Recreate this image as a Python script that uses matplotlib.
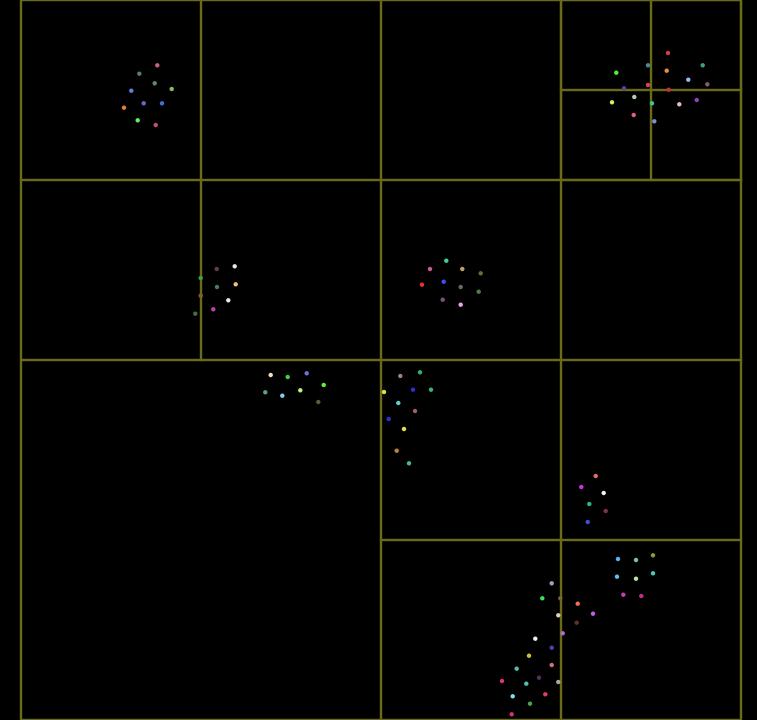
import numpy as np
import matplotlib.pyplot as plt
from matplotlib.patches import Rectangle

# 四分樹節點 (左上角 x, y, 邊長)，座標以像素為單位，y 向下
node_x = [0, 0, 180, 0, 180, 360, 540, 540, 630, 540, 630, 360, 540, 0, 360, 540, 360, 540]
node_y = [0, 0, 0, 180, 180, 0, 0, 0, 0, 90, 90, 180, 180, 360, 360, 360, 540, 540]
node_s = [720, 180, 180, 180, 180, 180, 180, 90, 90, 90, 90, 180, 180, 360, 180, 180, 180, 180]

# 點的位置與顏色
pt_x = [136.8, 118.8, 134.2, 151.2, 110.8, 123.2, 141.5, 103.5, 117.2, 135.2,
        647.5, 627.5, 682.2, 595.8, 646.2, 667.8, 686.8, 627.5, 603.5, 648.2,
        591.5, 613.8, 631.5, 658.8, 676.2, 613.2, 633.8,
        196.2, 214.2, 180.2, 196.5, 215.2, 180.2, 207.8, 192.8, 174.8,
        425.8, 409.5, 441.8, 460.2, 401.5, 423.2, 440.2, 458.2, 422.2, 440.2,
        250.2, 267.2, 286.2, 303.2, 244.8, 261.8, 279.8, 297.8,
        379.8, 399.5, 363.5, 392.5, 410.5, 377.8, 394.5, 368.2, 383.5, 376.2, 388.5,
        575.2, 560.8, 583.2, 568.8, 585.2, 567.2,
        597.5, 615.5, 632.5, 596.5, 615.5, 632.5, 602.8, 620.8,
        531.2, 521.8, 539.8, 557.2, 572.5, 537.8, 556.2, 542.2, 514.8, 531.2, 508.5,
        531.2, 496.2, 481.5, 518.5, 537.8, 505.8, 524.8, 492.2, 509.5, 491.2]
pt_y = [65.3, 73.7, 83.3, 89.0, 90.7, 103.3, 103.3, 107.7, 120.3, 125.0,
        53.0, 65.3, 65.3, 72.7, 70.7, 79.7, 84.3, 85.0, 88.3, 89.7,
        102.3, 97.0, 103.3, 104.3, 100.0, 115.0, 121.3,
        269.0, 266.3, 278.0, 287.0, 284.3, 295.7, 300.3, 309.3, 313.7,
        260.7, 269.0, 269.0, 273.3, 284.7, 281.7, 287.0, 291.7, 299.7, 304.7,
        375.0, 377.0, 373.3, 385.0, 392.3, 395.7, 390.3, 402.0,
        376.0, 372.3, 392.0, 389.7, 389.7, 403.0, 411.0, 419.0, 429.0, 450.7, 463.3,
        476.0, 487.0, 493.0, 504.0, 511.0, 522.0,
        559.0, 560.0, 555.3, 576.7, 578.7, 573.3, 594.7, 596.0,
        583.3, 598.3, 598.3, 603.7, 613.7, 615.3, 622.7, 633.3, 638.7, 647.7, 655.7,
        665.0, 668.7, 681.0, 677.7, 682.0, 683.7, 694.3, 696.3, 703.7, 714.3]
pt_color = ['#c8608a', '#5a7a70', '#5f8a6a', '#80c060', '#6080e0', '#7a60c0', '#4070d0', '#e08030', '#60f060', '#c05070',
            '#d04040', '#409090', '#40a080', '#50f040', '#e09040', '#90c0f0', '#806060', '#e04050', '#6040a0', '#c03040',
            '#d0f060', '#b0d0b0', '#40c0a0', '#e0c0c0', '#9040c0', '#e06080', '#8090d0',
            '#604040', '#f0e0f0', '#40a040', '#408060', '#f0c080', '#806030', '#e0f0e0', '#c040a0', '#407040',
            '#40d090', '#c06090', '#c0a070', '#706a30', '#f03030', '#4050f0', '#607060', '#508040', '#805080', '#f0a0f0',
            '#f0e0c0', '#40d040', '#7070e0', '#60f040', '#60a080', '#80d0f0', '#c0f080', '#506040',
            '#a08090', '#30b070', '#e0e040', '#3030d0', '#40b070', '#60d0c0', '#a06060', '#3030d0', '#e0e040', '#c08040', '#40c080',
            '#e07060', '#d030e0', '#f0f0f0', '#30b080', '#803040', '#4050d0',
            '#60b0f0', '#80c090', '#80a040', '#60c0f0', '#c0e0a0', '#40d0b0', '#c040b0', '#c03080',
            '#a0a0c0', '#40e060', '#806030', '#f07050', '#c060e0', '#e0d0c0', '#603030', '#b070c0', '#f0f0e0', '#5040b0', '#d0c040',
            '#d07080', '#50c0a0', '#e03080', '#503060', '#a0b090', '#50c0b0', '#e04060', '#80e0f0', '#50a050', '#d03080']

LINE_COLOR = '#6b6a1a'

fig = plt.figure(figsize=(7.57, 7.2), dpi=100, facecolor='black')
ax = fig.add_axes([20.5 / 757, 0, 720 / 757, 1])
ax.set_facecolor('black')
ax.set_xlim(0, 720)
ax.set_ylim(720, 0)
ax.axis('off')

for x0, y0, s in zip(node_x, node_y, node_s):
    ax.add_patch(Rectangle((x0, y0), s, s, fill=False, edgecolor=LINE_COLOR,
                           linewidth=1.6, clip_on=False, zorder=1))

ax.scatter(pt_x, pt_y, c=pt_color, s=10, linewidths=0, zorder=2, clip_on=False)

fig.savefig('out.png', dpi=100, facecolor='black')
